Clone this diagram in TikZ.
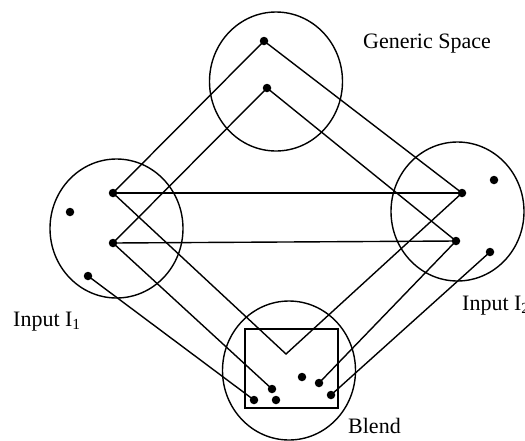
\documentclass[tikz,border=0pt]{standalone}
\usepackage{fontspec}
\setmainfont{Liberation Serif}
\usetikzlibrary{shapes.geometric}
\begin{document}
\begin{tikzpicture}[x=1pt, y=-1pt,
  space/.style={ellipse, draw, line width=1.4pt, minimum width=133pt, minimum height=139pt, inner sep=0pt},
  dot/.style={circle, fill, inner sep=0pt, minimum size=8.5pt},
  link/.style={line width=1.4pt},
  label/.style={font=\fontsize{22}{24}\selectfont, inner sep=0pt}]
\useasboundingbox (0,0) rectangle (525,440);
\clip (0,0) rectangle (525,440);

% the four mental spaces
\node[space] (gen)   at (276,81.5)  {};
\node[space] (inA)   at (116.5,228.5) {};
\node[space] (inB)   at (457.5,211.5) {};
\node[space] (blend) at (289,370.5) {};

% emergent structure frame inside the blend
\draw[link] (245,329) rectangle (338,408);

% elements of the generic space
\node[dot] (g1) at (264,41) {};
\node[dot] (g2) at (267,88) {};

% elements of input 1
\node[dot] (a1) at (113,193) {};
\node[dot] (a2) at (113,243) {};
\node[dot] (a3) at (70,212) {};
\node[dot] (a4) at (88,276) {};

% elements of input 2
\node[dot] (b1) at (462,193) {};
\node[dot] (b2) at (456,241) {};
\node[dot] (b3) at (494,180) {};
\node[dot] (b4) at (490,252) {};

% elements of the blend
\coordinate (v) at (286,354);
\node[dot] (c1) at (272,389) {};
\node[dot] (c2) at (254,400) {};
\node[dot] (c3) at (276,400) {};
\node[dot] (c4) at (302,377) {};
\node[dot] (c5) at (319,383) {};
\node[dot] (c6) at (331,395) {};

% generic space to inputs
\draw[link] (g1.center) -- (a1.center);
\draw[link] (g1.center) -- (b1.center);
\draw[link] (g2.center) -- (a2.center);
\draw[link] (g2.center) -- (b2.center);

% cross-space mapping
\draw[link] (a1.center) -- (b1.center);
\draw[link] (a2.center) -- (b2.center);

% projections into the blend
\draw[link] (a1.center) -- (v) -- (b1.center);
\draw[link] (a2.center) -- (c1.center);
\draw[link] (a4.center) -- (c2.center);
\draw[link] (b2.center) -- (c5.center);
\draw[link] (b4.center) -- (c6.center);

% labels
\node[label, anchor=base west] (tgen) at (363,48) {Generic Space};
\node[label, anchor=base west] (tinA) at (13,326) {Input I\textsubscript{1}};
\node[label, anchor=base west] (tinB) at (462,310) {Input I\textsubscript{2}};
\node[label, anchor=base west] (tbl)  at (348,433) {Blend};
\end{tikzpicture}
\end{document}
